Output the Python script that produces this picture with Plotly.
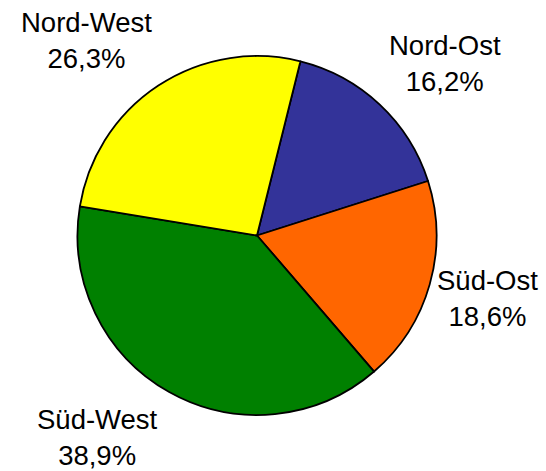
import plotly.graph_objects as go

W, H = 546, 471

labels = ["Nord-Ost", "Süd-Ost", "Süd-West", "Nord-West"]
values = [16.2, 18.6, 38.9, 26.3]
colors = ["#333399", "#FF6600", "#008000", "#FFFF00"]

# label anchor positions in pixels (layout only)
label_pos = [(445, 64), (487, 298), (97, 437), (86, 41)]

fig = go.Figure(go.Pie(
    labels=labels,
    values=values,
    sort=False,
    direction="clockwise",
    rotation=14,
    marker=dict(colors=colors, line=dict(color="black", width=1.8)),
    textinfo="none",
    hoverinfo="label+percent",
    showlegend=False,
    domain=dict(x=[77.5 / W, 436.5 / W], y=[1 - 415 / H, 1 - 56 / H]),
))

annotations = []
for lab, val, (px, py) in zip(labels, values, label_pos):
    txt = f"{lab}<br>{val:.1f}%".replace(".", ",")
    annotations.append(dict(
        text=txt, x=px / W, y=1 - py / H, xref="paper", yref="paper",
        xanchor="center", yanchor="middle", showarrow=False, align="center",
        font=dict(family="Liberation Sans, Arial", size=27.5, color="black"),
    ))

fig.update_layout(
    width=W, height=H,
    margin=dict(l=0, r=0, t=0, b=0),
    paper_bgcolor="white", plot_bgcolor="white",
    annotations=annotations,
)

fig.write_html(
    "out.html",
    config={"displayModeBar": False},
    post_script="document.body.style.margin='0';document.body.style.overflow='hidden';",
)
